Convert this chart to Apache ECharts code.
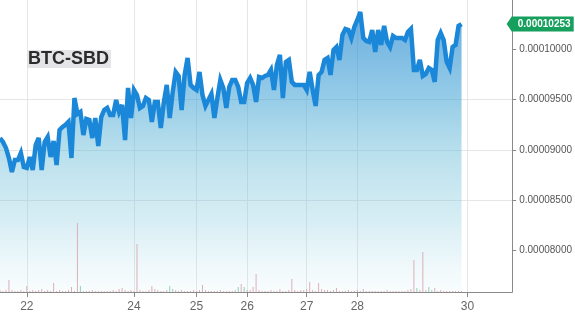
<!DOCTYPE html>
<html>
<head>
<meta charset="utf-8">
<script src="https://cdn.jsdelivr.net/npm/echarts@6/dist/echarts.min.js"></script>
<style>
html,body{margin:0;padding:0;background:#fff;}
#chart{width:575px;height:322px;}
</style>
</head>
<body>
<div id="chart"></div>
<script>
// ---- data ----
const pairName = 'BTC-SBD';
const slotCount = 173;                       // ordinal samples on the x axis
const dayLabels = ['22', '24', '25', '26', '27', '28', '30'];
const dayStartIdx = [9, 45, 66, 83, 103, 120, 157];
const yTickValues = [0.00008, 0.000085, 0.00009, 0.000095, 0.0001];

const closePrice = [
  0.00009119,0.00009080,0.00009020,0.00008920,0.00008781,0.00008900,0.00008900,0.00008970,0.00008831,0.00008821,
  0.00008930,0.00008801,0.00009050,0.00009119,0.00008801,0.00009080,0.00009129,0.00008930,0.00009090,0.00008851,
  0.00009199,0.00009229,0.00009249,0.00009279,0.00008920,0.00009517,0.00009358,0.00009378,0.00009149,0.00009308,
  0.00009298,0.00009119,0.00009318,0.00009040,0.00009328,0.00009398,0.00009418,0.00009348,0.00009348,0.00009497,
  0.00009378,0.00009448,0.00009099,0.00009617,0.00009318,0.00009597,0.00009547,0.00009418,0.00009438,0.00009517,
  0.00009497,0.00009279,0.00009478,0.00009478,0.00009219,0.00009468,0.00009647,0.00009318,0.00009577,0.00009776,
  0.00009736,0.00009398,0.00009746,0.00009915,0.00009647,0.00009617,0.00009597,0.00009776,0.00009547,0.00009438,
  0.00009497,0.00009557,0.00009318,0.00009517,0.00009696,0.00009617,0.00009418,0.00009627,0.00009696,0.00009696,
  0.00009627,0.00009478,0.00009478,0.00009667,0.00009716,0.00009647,0.00009478,0.00009726,0.00009716,0.00009736,
  0.00009746,0.00009796,0.00009597,0.00009846,0.00009945,0.00009517,0.00009876,0.00009896,0.00009677,0.00009647,
  0.00009647,0.00009647,0.00009647,0.00009597,0.00009776,0.00009597,0.00009438,0.00009746,0.00009776,0.00009896,
  0.00009915,0.00009746,0.00009995,0.00010025,0.00009896,0.00010144,0.00010204,0.00010194,0.00010114,0.00010224,
  0.00010293,0.00010373,0.00010114,0.00010085,0.00010075,0.00010194,0.00009975,0.00010194,0.00010045,0.00010234,
  0.00010075,0.00010025,0.00010134,0.00010114,0.00010114,0.00010114,0.00010094,0.00010174,0.00010204,0.00009796,
  0.00009796,0.00009896,0.00009736,0.00009756,0.00009816,0.00009796,0.00009677,0.00010094,0.00010164,0.00010094,
  0.00009876,0.00009816,0.00010025,0.00010045,0.00010234,0.00010253
];

const volume = [
  0.02,0.01,0.02,0.12,0.02,0.01,0.01,0.02,0.01,0.06,
  0.01,0.02,0.01,0.02,0.03,0.01,0.02,0.01,0.09,0.01,
  0.02,0.01,0.01,0.02,0.05,0.01,0.69,0.06,0.01,0.01,
  0.01,0.02,0.01,0.01,0.01,0.01,0.01,0.01,0.02,0.01,
  0.03,0.04,0.02,0.01,0.02,0.01,0.48,0.02,0.01,0.01,
  0.02,0.06,0.03,0.02,0.01,0.01,0.02,0.06,0.03,0.02,
  0.01,0.02,0.01,0.01,0.01,0.02,0.01,0.02,0.07,0.02,
  0.01,0.01,0.01,0.01,0.02,0.01,0.01,0.01,0.01,0.02,
  0.05,0.08,0.05,0.02,0.02,0.05,0.18,0.02,0.01,0.01,
  0.01,0.02,0.01,0.01,0.03,0.01,0.01,0.02,0.13,0.02,
  0.01,0.02,0.02,0.03,0.10,0.02,0.01,0.09,0.03,0.02,
  0.02,0.01,0.02,0.04,0.01,0.01,0.01,0.02,0.01,0.01,
  0.02,0.01,0.03,0.01,0.01,0.01,0.01,0.01,0.01,0.01,
  0.02,0.01,0.01,0.01,0.01,0.01,0.01,0.02,0.03,0.32,
  0.04,0.02,0.40,0.02,0.05,0.02,0.04,0.01,0.02,0.01,
  0.01,0.01,0.01,0.01,0.01,0.01
];
const buyVolumeIdx = [27, 57, 58, 80, 82, 140, 144, 145];

// ---- build ----
const categories = Array.from({length: slotCount}, () => '');
dayStartIdx.forEach((idx, k) => { categories[idx] = dayLabels[k]; });
const isDayStart = (idx) => dayStartIdx.indexOf(idx) !== -1;
const lastIdx = closePrice.length - 1;
const lastPrice = closePrice[lastIdx];

const chart = echarts.init(document.getElementById('chart'), null, {renderer: 'canvas'});
chart.setOption({
  animation: false,
  backgroundColor: '#ffffff',
  title: {
    text: pairName,
    left: 27, top: 50,
    padding: [0, 2, 0, 1],
    backgroundColor: 'rgba(222,222,226,0.8)',
    textStyle: {fontFamily: 'Liberation Sans, Arial, sans-serif', fontSize: 18, fontWeight: 'bold', color: '#2b2b2b', lineHeight: 18}
  },
  grid: {left: 0, right: 59, top: 0, bottom: 30},
  xAxis: {
    type: 'category',
    data: categories,
    boundaryGap: false,
    axisLine: {lineStyle: {color: '#8a8a8a', width: 1}},
    axisTick: {show: true, interval: (i) => isDayStart(i), length: 5, lineStyle: {color: '#8a8a8a'}},
    axisLabel: {interval: (i) => isDayStart(i), color: '#666', fontSize: 12, fontFamily: 'Liberation Sans, Arial, sans-serif', margin: 9},
    splitLine: {show: true, interval: (i) => isDayStart(i), lineStyle: {color: '#e6e6e6', width: 1}}
  },
  yAxis: [{
    type: 'value',
    position: 'right',
    min: 0.00007587,
    max: 0.00010492,
    minInterval: 0.000005,
    maxInterval: 0.000005,
    axisLine: {show: true, lineStyle: {color: '#8a8a8a'}},
    axisTick: {show: true, length: 4, lineStyle: {color: '#8a8a8a'}, customValues: yTickValues},
    axisLabel: {
      show: true, margin: 7, color: '#555', fontSize: 10,
      fontFamily: 'Liberation Sans, Arial, sans-serif',
      customValues: yTickValues,
      formatter: (v) => v.toFixed(8)
    },
    splitLine: {show: true, showMinLine: false, showMaxLine: false, lineStyle: {color: '#e6e6e6'}}
  }, {
    type: 'value',
    min: 0, max: 2.92,
    show: false,
    splitLine: {show: false}
  }],
  series: [{
    type: 'bar',
    yAxisIndex: 1,
    data: volume,
    barWidth: 1,
    silent: true,
    itemStyle: {color: (p) => buyVolumeIdx.indexOf(p.dataIndex) !== -1 ? '#93cfbd' : '#dbb0b7'},
    z: 3
  }, {
    type: 'line',
    data: closePrice,
    showSymbol: false,
    symbol: 'none',
    lineStyle: {color: '#1b87d8', width: 4.5, join: 'miter', miterLimit: 4},
    areaStyle: {
      origin: 'start',
      color: new echarts.graphic.LinearGradient(0, 0, 0, 1, [
        {offset: 0, color: 'rgba(22,127,205,0.92)'},
        {offset: 0.3, color: 'rgba(60,160,212,0.78)'},
        {offset: 0.5, color: 'rgba(92,182,212,0.62)'},
        {offset: 0.75, color: 'rgba(130,200,222,0.45)'},
        {offset: 1, color: 'rgba(180,225,236,0.12)'}
      ])
    },
    z: 2,
    markPoint: {
      silent: true,
      data: [{coord: [slotCount - 1, lastPrice], value: lastPrice}],
      symbol: 'path://M0,7.5 L5,0 L67,0 L67,15 L5,15 Z',
      symbolSize: [67, 15],
      symbolOffset: [28, 0],
      symbolKeepAspect: false,
      itemStyle: {color: '#17a05d'},
      label: {
        show: true, position: 'inside', offset: [4, 0],
        color: '#fff', fontSize: 10, fontWeight: 'bold',
        fontFamily: 'Liberation Sans, Arial, sans-serif',
        formatter: (p) => p.value.toFixed(8)
      }
    }
  }]
});
</script>
</body>
</html>
